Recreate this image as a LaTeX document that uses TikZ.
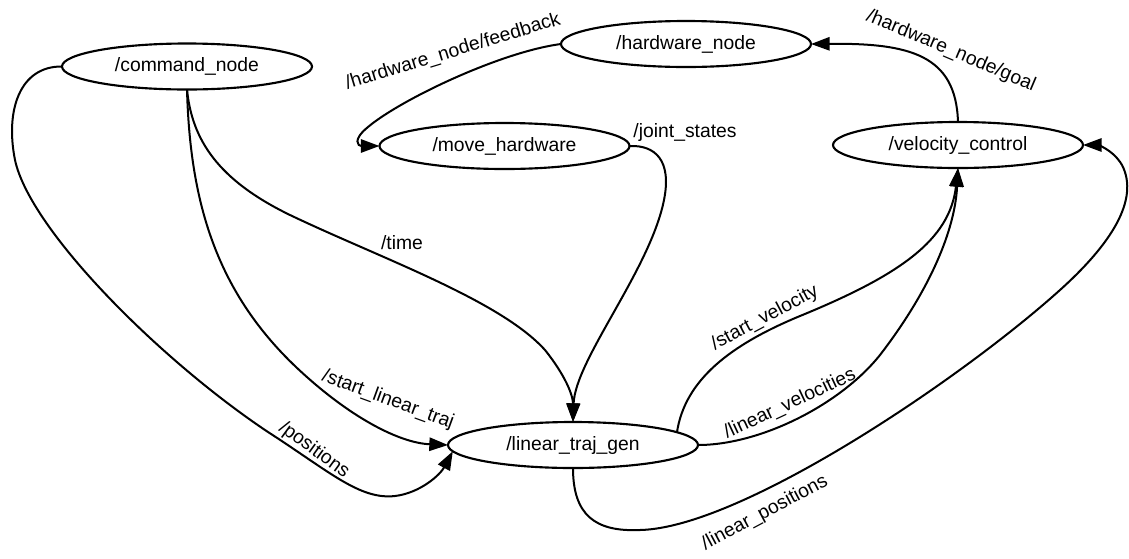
\documentclass[tikz,border=0pt]{standalone}
\usepackage{fontspec}
\setmainfont{Liberation Sans}
\usetikzlibrary{shapes.geometric,arrows.meta}
\begin{document}
\begin{tikzpicture}[x=0.75pt,y=-0.75pt,
  rosnode/.style={ellipse,draw,line width=1.6pt,minimum width=187.5pt,minimum height=34.5pt,
    inner sep=0pt,outer sep=0pt,font=\fontsize{14.5}{17}\selectfont},
  topic/.style={-{Triangle[length=14pt,width=10pt]},line width=1.5pt},
  lbl/.style={font=\fontsize{14.5}{17}\selectfont,inner sep=0pt}]
\useasboundingbox (0,0) rectangle (1129,558);

% ROS nodes
\node[rosnode] (cmd) at (187,66.5) {/command\_node};
\node[rosnode] (hw)  at (686,44)   {/hardware\_node};
\node[rosnode] (mh)  at (504.5,146) {/move\_hardware};
\node[rosnode] (vc)  at (958,145)  {/velocity\_control};
\node[rosnode] (ltg) at (573,445)  {/linear\_traj\_gen};

% topics
\draw[topic] (cmd.west) .. controls (20,66) and (5,110) .. (15,160)
  .. controls (30,230) and (160,360) .. (268,432)
  .. controls (330,472) and (360,500) .. (395,496)
  .. controls (420,493) and (440,475) .. (ltg.183);
\draw[topic] (cmd.south) .. controls (190,200) and (215,290) .. (296,367)
  .. controls (350,418) and (400,443) .. (ltg.west);
\draw[topic] (cmd.south) .. controls (192,140) and (218,180) .. (290,215)
  .. controls (380,258) and (500,300) .. (545,350)
  .. controls (565,375) and (573,395) .. (ltg.north);
\draw[topic] (mh.east) .. controls (655,145) and (672,160) .. (664,200)
  .. controls (650,270) and (575,360) .. (ltg.north);
\draw[topic] (hw.west) .. controls (500,52) and (400,100) .. (368,127)
  .. controls (352,140) and (358,146) .. (mh.west);
\draw[topic] (vc.north) .. controls (956,55) and (910,43) .. (hw.east);
\draw[topic] (ltg.7) .. controls (685,380) and (730,345) .. (800,316)
  .. controls (900,275) and (950,240) .. (vc.south);
\draw[topic] (ltg.east) .. controls (760,445) and (840,405) .. (880,355)
  .. controls (930,290) and (955,230) .. (vc.south);
\draw[topic] (ltg.south) .. controls (573,515) and (595,532) .. (640,530)
  .. controls (740,528) and (960,380) .. (1060,290)
  .. controls (1110,245) and (1140,200) .. (1122,165)
  .. controls (1112,148) and (1095,145) .. (vc.east);

% topic names
\node[lbl,rotate=17]  (lfb)  at (453,52)  {/hardware\_node/feedback};
\node[lbl,rotate=-23] (lgl)  at (951,51)  {/hardware\_node/goal};
\node[lbl]            (ljs)  at (685,132) {/joint\_states};
\node[lbl]            (ltm)  at (402,243) {/time};
\node[lbl,rotate=-20] (lslt) at (388,400) {/start\_linear\_traj};
\node[lbl,rotate=-36] (lpos) at (314,450) {/positions};
\node[lbl,rotate=28]  (lsv)  at (765,318) {/start\_velocity};
\node[lbl,rotate=25]  (llv)  at (790,404) {/linear\_velocities};
\node[lbl,rotate=28]  (llp)  at (765,513) {/linear\_positions};
\end{tikzpicture}
\end{document}
